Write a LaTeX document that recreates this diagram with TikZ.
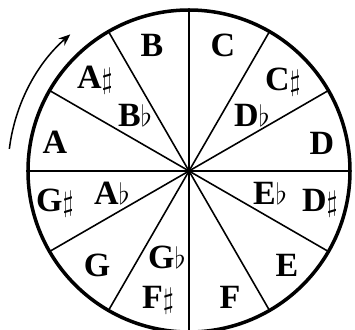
\documentclass[tikz,border=0pt]{standalone}
\usepackage{amsmath}
\usepackage{amssymb}
\usepackage{fontspec}
\setmainfont{Liberation Serif}
\usepackage{tikz}
\usetikzlibrary{arrows.meta}

\begin{document}
\begin{tikzpicture}[x=0.3mm,y=0.3mm,
  note/.style={font=\fontsize{29}{31}\selectfont\bfseries,inner sep=0pt}]
\useasboundingbox (-189,-159) rectangle (166,171);
\clip (-189,-159) rectangle (166,171);
\coordinate (o) at (0,0);
\draw[line width=1.35pt] (90:161)--(270:161);
\draw[line width=1.35pt] (0:161)--(180:161);
\draw[line width=1.35pt] (30:161)--(210:161);
\draw[line width=1.35pt] (60:161)--(240:161);
\draw[line width=1.35pt] (120:161)--(300:161);
\draw[line width=1.35pt] (150:161)--(330:161);
\draw[line width=3pt] (o) circle[radius=161];
\draw[line width=1.3pt,-{Stealth[length=10pt,width=8pt]}] (173:181) arc[start angle=173,end angle=131,radius=181];
\node[note] (c) at (34,126) {C};
\node[note] (cs) at (94,89) {C$\sharp$};
\node[note] (db) at (63,56) {D$\flat$};
\node[note] (d) at (133,28) {D};
\node[note] (eb) at (81,-22) {E$\flat$};
\node[note] (ds) at (131,-32) {D$\sharp$};
\node[note] (e) at (98,-94) {E};
\node[note] (f) at (41,-126) {F};
\node[note] (gb) at (-22,-86) {G$\flat$};
\node[note] (fs) at (-31,-129) {F$\sharp$};
\node[note] (g) at (-92,-94) {G};
\node[note] (ab) at (-77,-22) {A$\flat$};
\node[note] (gs) at (-134,-32) {G$\sharp$};
\node[note] (a) at (-134,29) {A};
\node[note] (as) at (-94,91) {A$\sharp$};
\node[note] (bb) at (-54,56) {B$\flat$};
\node[note] (b) at (-37,126) {B};
\end{tikzpicture}
\end{document}
